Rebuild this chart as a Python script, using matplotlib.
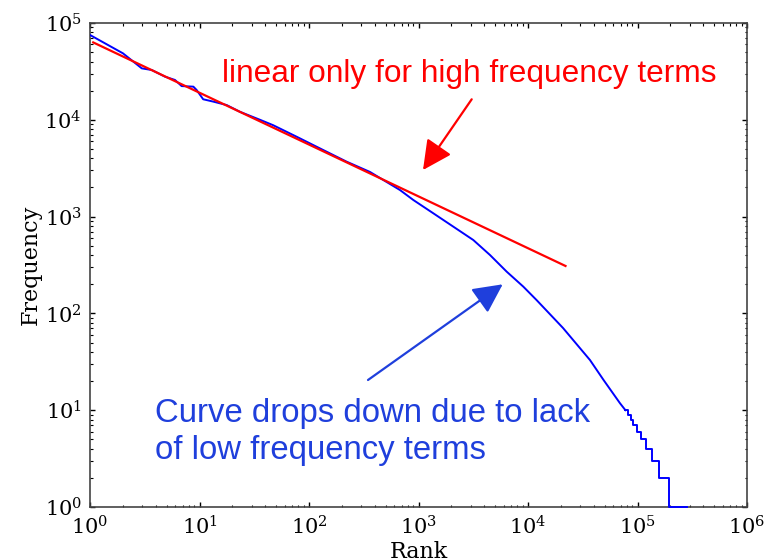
import matplotlib
matplotlib.use("Agg")
import matplotlib.pyplot as plt
import numpy as np

# Observed rank/frequency curve (smooth part)
ranks = [1, 2.0, 2.97, 3.66, 4.84, 5.97, 6.87, 8.79, 9.42, 10.8, 13.4, 17.7,
         23.4, 35.7, 47.0, 77, 135, 221, 361, 678, 897, 1365, 2080, 3165,
         4497, 6385, 9060, 12000, 20900, 36800, 49000, 69200, 77600]
freqs = [75200, 48600, 34000, 32700, 27900, 25800, 22300, 22000, 20300, 16300,
         15400, 14200, 12100, 10000, 8800, 6690, 4870, 3690, 2890, 1880, 1484,
         1082, 787, 573, 401, 270, 189, 137, 70.6, 33, 20.5, 11.8, 10]

# Low-frequency tail (integer frequencies -> staircase)
tail_ranks = [77600, 81900, 86700, 91600, 98400, 108000, 119000, 135000,
              157000, 195000, 283000]
tail_freqs = [10, 9, 8, 7, 6, 5, 4, 3, 2, 1, 1]

# Fitted power law (red line) endpoints
fit_ranks = [1.07, 22000]
fit_freqs = [63000, 309]

W, H = 764, 560
plt.rcParams['font.family'] = ['DejaVu Serif']
plt.rcParams['mathtext.fontset'] = 'dejavuserif'

fig = plt.figure(figsize=(W / 100, H / 100), dpi=100)
fig.patch.set_facecolor('white')
ax = fig.add_axes([90 / W, 1 - 507 / H, 657 / W, 484 / H])

ax.plot(ranks, freqs, color='#0000ff', lw=1.4, zorder=3)
ax.plot(tail_ranks, tail_freqs, color='#0000ff', lw=1.4, drawstyle='steps-post',
        zorder=5, clip_on=False)
ax.plot(fit_ranks, fit_freqs, color='#ff0000', lw=1.6, zorder=4)

ax.set_xscale('log')
ax.set_yscale('log')
ax.set_xlim(1, 1e6)
ax.set_ylim(1, 1e5)

ax.tick_params(which='both', direction='in', top=True, right=True, labelsize=15)
ax.tick_params(which='major', length=3.4, width=1, pad=6)
ax.tick_params(which='minor', length=1.8, width=0.8)
for s in ax.spines.values():
    s.set_color('#444444')
    s.set_linewidth(1.2)

ax.set_xlabel('Rank', fontsize=16, labelpad=2)
ax.set_ylabel('Frequency', fontsize=16, labelpad=2)

def fpx(x, y):
    return (x / W, 1 - y / H)

blue_txt = '#1f3fdc'
fig.text(*fpx(222, 82), 'linear only for high frequency terms', color='#ff0000',
         fontsize=22.8, family=['Liberation Sans'], ha='left', va='baseline')
fig.text(*fpx(155, 421.7), 'Curve drops down due to lack', color=blue_txt,
         fontsize=23.7, family=['Liberation Sans'], ha='left', va='baseline')
fig.text(*fpx(155, 459), 'of low frequency terms', color=blue_txt,
         fontsize=23.7, family=['Liberation Sans'], ha='left', va='baseline')

ax.annotate('', xy=fpx(423, 170), xycoords='figure fraction',
            xytext=fpx(471.7, 99.3), textcoords='figure fraction',
            arrowprops=dict(arrowstyle='-|>,head_length=0.9,head_width=0.45',
                            color='#ff0000', lw=1.6, mutation_scale=20,
                            shrinkA=0, shrinkB=0))
ax.annotate('', xy=fpx(502.7, 284.3), xycoords='figure fraction',
            xytext=fpx(368, 380), textcoords='figure fraction',
            arrowprops=dict(arrowstyle='-|>,head_length=0.9,head_width=0.45',
                            color=blue_txt, lw=1.6, mutation_scale=20,
                            shrinkA=0, shrinkB=0))

fig.savefig('out.png', dpi=100, facecolor='white')
